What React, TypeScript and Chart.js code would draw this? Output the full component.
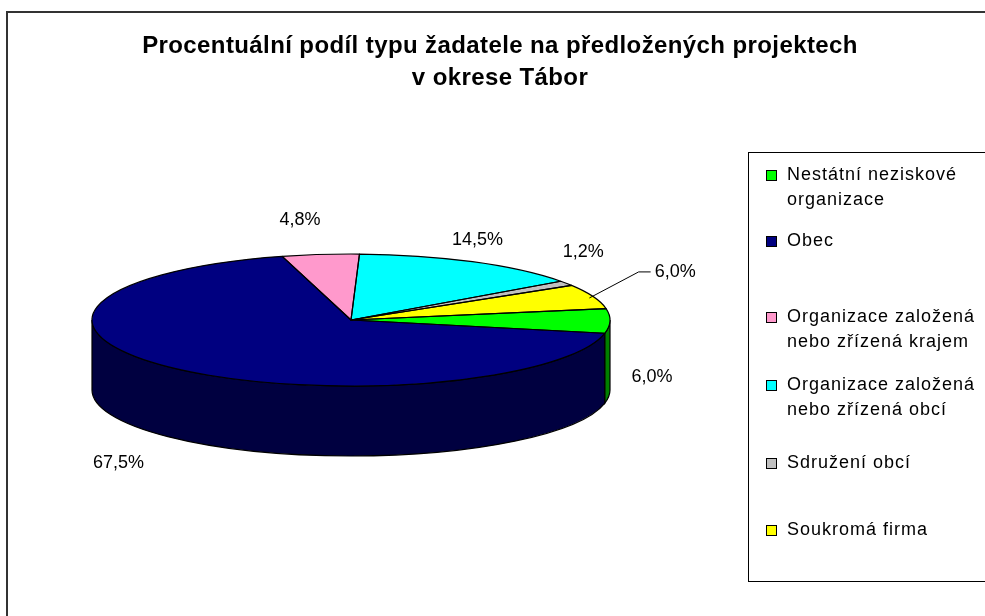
import React, { useEffect, useRef } from "react";
import { Chart, registerables } from "chart.js";

Chart.register(...registerables);

// ---------- data ----------
const TITLE_LINES = [
  "Procentuální podíl typu žadatele na předložených projektech",
  "v okrese Tábor",
];
const CATEGORIES = [
  "Nestátní neziskové organizace",
  "Obec",
  "Organizace založená nebo zřízená krajem",
  "Organizace založená nebo zřízená obcí",
  "Sdružení obcí",
  "Soukromá firma",
];
const LEGEND_LINES = [
  ["Nestátní neziskové", "organizace"],
  ["Obec"],
  ["Organizace založená", "nebo zřízená krajem"],
  ["Organizace založená", "nebo zřízená obcí"],
  ["Sdružení obcí"],
  ["Soukromá firma"],
];
const VALUES = [6.0, 67.5, 4.8, 14.5, 1.2, 6.0];

// ---------- styles / layout ----------
const TOP_COLORS = ["#00FF00", "#000080", "#FF99CC", "#00FFFF", "#C0C0C0", "#FFFF00"];
const SIDE_COLORS = ["#008000", "#000040", "#804C66", "#008080", "#606060", "#808000"];
const TILT = 66 / 259; // vertical squash of the pie top
const DEPTH = 70; // pie thickness in px
const LABEL_PAD = 30;
const LABEL_NUDGE: [number, number][] = [
  [12, -14],
  [-35, 3],
  [-17, -5],
  [-9, 5],
  [-8, -15],
  [54, -14],
];
const LEADER = [false, false, false, false, false, true];
const LEGEND_ROW_CENTERS = [174, 240, 316, 384, 462, 529];
const FONT = "'Liberation Sans', Arial, sans-serif";

const pie3d = {
  id: "pie3d",
  beforeDatasetsDraw(chart: any) {
    const ctx: CanvasRenderingContext2D = chart.ctx;
    const arcs = chart.getDatasetMeta(0).data;
    const p = arcs[0].getProps(["x", "y", "outerRadius"], true);
    const cx = p.x, cy = p.y, R = p.outerRadius;
    const ry = R * TILT;
    arcs.forEach((arc: any, i: number) => {
      const { startAngle: s, endAngle: e } = arc.getProps(["startAngle", "endAngle"], true);
      for (let k = -1; k <= 1; k++) {
        const lo = Math.max(s, 2 * Math.PI * k);
        const hi = Math.min(e, 2 * Math.PI * k + Math.PI);
        if (hi <= lo) continue;
        ctx.beginPath();
        ctx.ellipse(cx, cy, R, ry, 0, lo, hi, false);
        ctx.ellipse(cx, cy + DEPTH, R, ry, 0, hi, lo, true);
        ctx.closePath();
        ctx.fillStyle = SIDE_COLORS[i];
        ctx.fill();
        ctx.lineWidth = 1.2;
        ctx.strokeStyle = "#000";
        ctx.stroke();
      }
    });
    ctx.save();
    ctx.translate(0, cy);
    ctx.scale(1, TILT);
    ctx.translate(0, -cy);
  },
  afterDatasetsDraw(chart: any) {
    const ctx: CanvasRenderingContext2D = chart.ctx;
    ctx.restore();
    const arcs = chart.getDatasetMeta(0).data;
    const p = arcs[0].getProps(["x", "y", "outerRadius"], true);
    const cx = p.x, cy = p.y, R = p.outerRadius;
    const ry = R * TILT;
    ctx.save();
    ctx.lineWidth = 1.2;
    ctx.strokeStyle = "#000";
    ctx.lineJoin = "round";
    arcs.forEach((arc: any) => {
      const { startAngle: s, endAngle: e } = arc.getProps(["startAngle", "endAngle"], true);
      ctx.beginPath();
      ctx.moveTo(cx, cy);
      ctx.lineTo(cx + R * Math.cos(s), cy + ry * Math.sin(s));
      ctx.ellipse(cx, cy, R, ry, 0, s, e, false);
      ctx.closePath();
      ctx.stroke();
    });
    ctx.restore();
  },
  afterDraw(chart: any) {
    const ctx: CanvasRenderingContext2D = chart.ctx;
    const arcs = chart.getDatasetMeta(0).data;
    const p = arcs[0].getProps(["x", "y", "outerRadius"], true);
    const cx = p.x, cy = p.y, R = p.outerRadius;
    const ry = R * TILT;
    const values = chart.data.datasets[0].data;
    ctx.save();
    ctx.font = `18px ${FONT}`;
    ctx.fillStyle = "#000";
    ctx.textBaseline = "middle";
    arcs.forEach((arc: any, i: number) => {
      const { startAngle: s, endAngle: e } = arc.getProps(["startAngle", "endAngle"], true);
      const m = (s + e) / 2;
      const sn = Math.sin(m), cs = Math.cos(m);
      const ax = cx + (R + LABEL_PAD) * cs;
      const ay = cy + (ry + LABEL_PAD) * sn + (sn > 0 ? DEPTH : 0);
      const lx = ax + LABEL_NUDGE[i][0];
      const ly = ay + LABEL_NUDGE[i][1];
      const text = values[i].toFixed(1).replace(".", ",") + "%";
      const w = ctx.measureText(text).width;
      if (LEADER[i]) {
        const rx0 = cx + (R - 4) * cs;
        const ry0 = cy + (ry - 4) * sn;
        ctx.beginPath();
        ctx.lineWidth = 1;
        ctx.strokeStyle = "#000";
        ctx.moveTo(rx0, ry0);
        ctx.lineTo(lx - w / 2 - 16, ly);
        ctx.lineTo(lx - w / 2 - 4, ly);
        ctx.stroke();
      }
      ctx.textAlign = "center";
      ctx.fillText(text, lx, ly);
    });
    ctx.restore();
  },
};

export default function App() {
  const ref = useRef<HTMLCanvasElement | null>(null);
  useEffect(() => {
    if (!ref.current) return;
    const chart = new Chart(ref.current, {
      type: "pie",
      data: {
        labels: CATEGORIES,
        datasets: [
          {
            data: VALUES,
            backgroundColor: TOP_COLORS,
            borderWidth: 0,
          },
        ],
      },
      options: {
        responsive: false,
        animation: false,
        events: [],
        rotation: 80,
        layout: { padding: { left: 92, top: 61, right: 375, bottom: 37 } },
        plugins: {
          legend: { display: false },
          tooltip: { enabled: false },
          title: { display: false },
        },
      },
      plugins: [pie3d],
    });
    return () => chart.destroy();
  }, []);

  return (
    <div
      style={{
        position: "fixed",
        left: 0,
        top: 0,
        width: 985,
        height: 616,
        overflow: "hidden",
        background: "#fff",
        fontFamily: FONT,
      }}
    >
      <div
        style={{
          position: "absolute",
          left: 6,
          top: 11,
          width: 1100,
          height: 800,
          border: "2px solid #333",
        }}
      />
      <canvas ref={ref} width={985} height={616} style={{ position: "absolute", left: 0, top: 0 }} />
      <div
        style={{
          position: "absolute",
          left: 0,
          top: 29,
          width: 1000,
          textAlign: "center",
          fontWeight: "bold",
          fontSize: 24,
          lineHeight: "32px",
          letterSpacing: "0.4px",
          color: "#000",
        }}
      >
        {TITLE_LINES.map((t, i) => (
          <div key={i}>{t}</div>
        ))}
      </div>
      <div
        style={{
          position: "absolute",
          left: 748,
          top: 152,
          width: 300,
          height: 428,
          border: "1px solid #000",
        }}
      />
      {LEGEND_LINES.map((lines, i) => (
        <div
          key={i}
          style={{
            position: "absolute",
            left: 766,
            top: LEGEND_ROW_CENTERS[i] - 12.5,
            fontSize: 18,
            lineHeight: "25px",
            letterSpacing: "1px",
            color: "#000",
            whiteSpace: "nowrap",
          }}
        >
          <span
            style={{
              position: "absolute",
              left: 0,
              top: 8,
              width: 9,
              height: 9,
              background: TOP_COLORS[i],
              border: "1px solid #000",
            }}
          />
          <div style={{ marginLeft: 21 }}>
            {lines.map((l, j) => (
              <div key={j}>{l}</div>
            ))}
          </div>
        </div>
      ))}
    </div>
  );
}
